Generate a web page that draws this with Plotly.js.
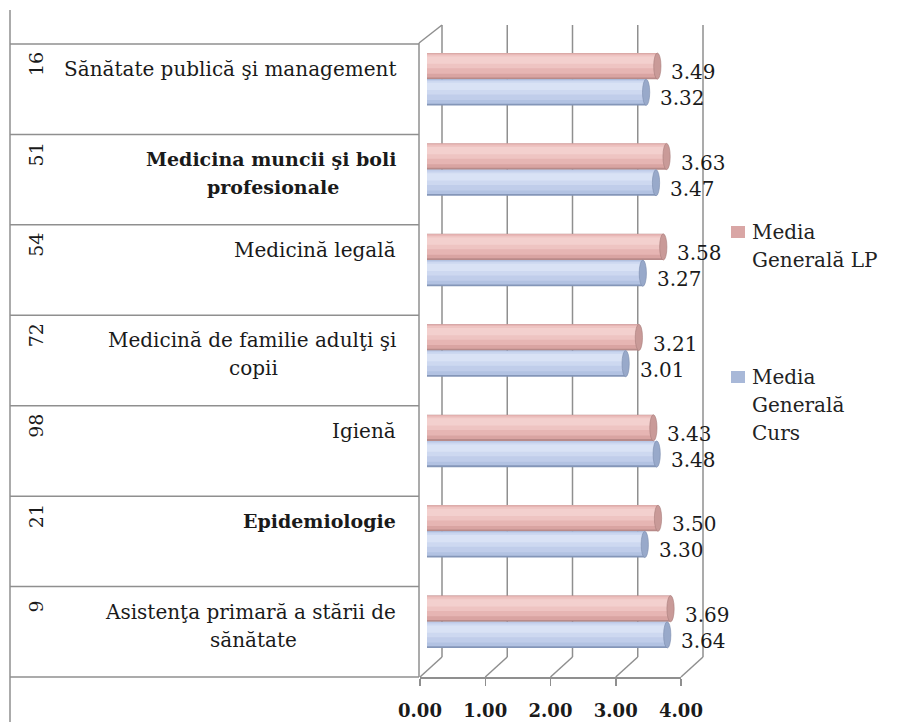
<!DOCTYPE html>
<html>
<head>
<meta charset="utf-8">
<script src="https://cdn.plot.ly/plotly-3.0.1.min.js"></script>
<style>html,body{margin:0;padding:0;background:#fff;}#chart{width:908px;height:722px;}</style>
</head>
<body>
<div id="chart"></div>
<script>
// ---- data ----
const codes = ['16', '51', '54', '72', '98', '21', '9'];
const categoryLines = [
  ['Sănătate publică şi management'],
  ['Medicina muncii şi boli', 'profesionale'],
  ['Medicină legală'],
  ['Medicină de familie adulţi şi', 'copii'],
  ['Igienă'],
  ['Epidemiologie'],
  ['Asistenţa primară a stării de', 'sănătate']
];
const boldRows = [false, true, false, false, false, true, false];
const mediaLP = [3.49, 3.63, 3.58, 3.21, 3.43, 3.50, 3.69];
const mediaCurs = [3.32, 3.47, 3.27, 3.01, 3.48, 3.30, 3.64];
const xTicks = [0, 1, 2, 3, 4];
const legendLP = ['Media', 'Generală LP'];
const legendCurs = ['Media', 'Generală', 'Curs'];

// ---- frame helpers ----
const W = 908, H = 722;
const PX = x => x / W;
const PY = y => 1 - y / H;
const FONT = 'DejaVu Serif, serif';
const GRID = '#8f8f8f';
const idx = mediaLP.map((_, i) => i);
const rowH = 90.43;
const rowTop = i => 44 + i * rowH;

function bar(values, off, w, color) {
  return {
    type: 'bar', orientation: 'h', x: values, y: idx,
    offset: off, width: w, xaxis: 'x', yaxis: 'y',
    marker: {color: color, line: {width: 0}},
    hoverinfo: 'skip', showlegend: false
  };
}

// cylinder shading bands (offset from / to, colour)
const pinkBands = [[-0.29, 0, '#b88a89'], [-0.288, -0.02, '#d9a4a2'], [-0.285, -0.06, '#e6b5b3'],
                   [-0.27, -0.12, '#eec4c2'], [-0.25, -0.17, '#f3d0ce']];
const blueBands = [[0, 0.29, '#8496b8'], [0.002, 0.27, '#b2c2e2'], [0.005, 0.23, '#c0cdea'],
                   [0.02, 0.17, '#cdd8f0'], [0.04, 0.12, '#d9e2f5']];

const data = [];
pinkBands.forEach(b => data.push(bar(mediaLP, b[0], b[1] - b[0], b[2])));
blueBands.forEach(b => data.push(bar(mediaCurs, b[0], b[1] - b[0], b[2])));
data.push({type: 'scatter', x: xTicks, y: xTicks.map(() => null), xaxis: 'x2', yaxis: 'y',
   mode: 'markers', hoverinfo: 'skip', showlegend: false});

const shapes = [];
const annotations = [];
const line = (x0, y0, x1, y1, layer) => shapes.push({
  type: 'line', xref: 'paper', yref: 'paper',
  x0: PX(x0), y0: PY(y0), x1: PX(x1), y1: PY(y1),
  line: {color: GRID, width: 1.5}, layer: layer || 'below'
});

// table
line(10, 10, 10, 722);
for (let i = 0; i <= codes.length; i++) line(10, rowTop(i), 419, rowTop(i));
line(419, 43, 419, 677);
line(419, 43, 442, 25);
// back wall + floor
xTicks.forEach(v => {
  const fx = 420 + v * 65.25, bx = 442 + v * 65.25;
  line(bx, 25, bx, 657);
  line(fx, 677, bx, 657);
});

// cylinder caps
mediaLP.forEach((v, i) => shapes.push({
  type: 'circle', xref: 'x', yref: 'y', x0: v - 0.055, x1: v + 0.055,
  y0: i - 0.29, y1: i, fillcolor: '#c99a98', line: {color: '#a87c7a', width: 0.6}, layer: 'above'
}));
mediaCurs.forEach((v, i) => shapes.push({
  type: 'circle', xref: 'x', yref: 'y', x0: v - 0.055, x1: v + 0.055,
  y0: i, y1: i + 0.29, fillcolor: '#98a9ca', line: {color: '#7a8bad', width: 0.6}, layer: 'above'
}));

// data labels
mediaLP.forEach((v, i) => annotations.push({
  xref: 'x', yref: 'y', x: v, y: i, xanchor: 'left', yanchor: 'middle',
  xshift: 12, yshift: 7, showarrow: false, text: v.toFixed(2),
  font: {family: FONT, size: 20, color: '#1a1a1a'}
}));
mediaCurs.forEach((v, i) => annotations.push({
  xref: 'x', yref: 'y', x: v, y: i, xanchor: 'left', yanchor: 'middle',
  xshift: 12, yshift: -19, showarrow: false, text: v.toFixed(2),
  font: {family: FONT, size: 20, color: '#1a1a1a'}
}));

// table texts
const ctx = document.createElement('canvas').getContext('2d');
codes.forEach((c, i) => annotations.push({
  xref: 'paper', yref: 'paper', x: PX(36), y: PY(rowTop(i) + 20),
  xanchor: 'center', yanchor: 'middle', textangle: -90, showarrow: false,
  text: c, font: {family: FONT, size: 19, color: '#1a1a1a'}
}));
categoryLines.forEach((lines, i) => {
  const size = boldRows[i] ? 19 : 20;
  ctx.font = (boldRows[i] ? 'bold ' : '') + size + 'px "DejaVu Serif"';
  const w1 = ctx.measureText(lines[0]).width;
  const right = 398;
  lines.forEach((t, k) => {
    const txt = boldRows[i] ? '<b>' + t + '</b>' : t;
    annotations.push({
      xref: 'paper', yref: 'paper',
      x: k === 0 ? PX(right) : PX(right - w1 / 2),
      y: PY(rowTop(i) + 25 + k * 28),
      xanchor: k === 0 ? 'right' : 'center', yanchor: 'middle',
      showarrow: false, text: txt,
      font: {family: FONT, size: size, color: '#1a1a1a'}
    });
  });
});

// legend
const legendItems = [
  {lines: legendLP, y: 232, color: '#d9a6a5'},
  {lines: legendCurs, y: 377, color: '#a8b8d8'}
];
legendItems.forEach(it => {
  shapes.push({type: 'rect', xref: 'paper', yref: 'paper',
    x0: PX(731), x1: PX(745), y0: PY(it.y - 6), y1: PY(it.y + 6),
    fillcolor: it.color, line: {width: 0}});
  it.lines.forEach((t, k) => annotations.push({
    xref: 'paper', yref: 'paper', x: PX(750), y: PY(it.y + k * 28),
    xanchor: 'left', yanchor: 'middle', showarrow: false, text: t,
    font: {family: FONT, size: 20, color: '#222'}
  }));
});

const layout = {
  width: W, height: H,
  margin: {l: 0, r: 0, t: 0, b: 0, pad: 0},
  paper_bgcolor: '#fff', plot_bgcolor: 'rgba(0,0,0,0)',
  showlegend: false, barmode: 'overlay',
  xaxis: {domain: [PX(427), PX(691)], range: [0, 4], visible: false, fixedrange: true},
  yaxis: {domain: [PY(667), PY(34)], range: [6.5, -0.5], visible: false, fixedrange: true},
  xaxis2: {
    domain: [PX(420), PX(681)], range: [0, 4], anchor: 'free', position: PY(677),
    showgrid: false, zeroline: false, showline: true, linecolor: GRID, linewidth: 1.5,
    ticks: 'outside', ticklen: 7, tickwidth: 1.5, tickcolor: GRID,
    tickvals: xTicks, tickformat: '.2f', ticklabelstandoff: 10,
    tickfont: {family: FONT, size: 18, color: '#1a1a1a', weight: 'bold'},
    fixedrange: true
  },
  shapes: shapes,
  annotations: annotations
};

Plotly.newPlot('chart', data, layout, {displayModeBar: false, staticPlot: true});
</script>
</body>
</html>
